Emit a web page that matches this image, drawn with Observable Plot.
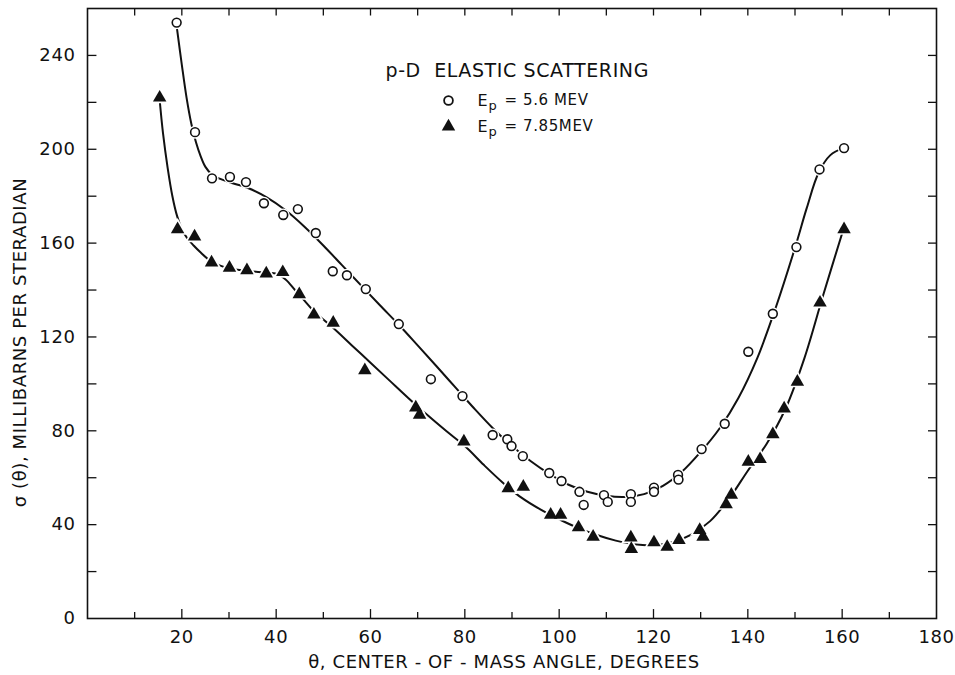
<!DOCTYPE html>
<html><head><meta charset="utf-8">
<script src="https://cdn.jsdelivr.net/npm/d3@7"></script>
<script src="https://cdn.jsdelivr.net/npm/@observablehq/plot@0.6"></script>
<style>
body{margin:0;background:#fff}
svg{display:block}
svg text{letter-spacing:0.6px}
</style>
</head><body><div id="chart"></div>
<script>
// Measured points, Ep = 5.6 MeV (open circles)
const angles56 = [18.9,22.8,26.4,30.2,33.6,37.4,41.5,44.6,48.4,52,55,59,66,72.8,79.5,85.9,89,89.9,92.3,97.9,100.5,104.3,105.2,109.5,110.3,115.2,115.2,120.1,120.1,125.2,125.3,130.2,135.1,140.1,145.3,150.3,155.2,160.4];
const values56 = [254,207.3,187.6,188.2,186,177,172,174.5,164.3,148,146.3,140.4,125.5,102,94.8,78.2,76.4,73.5,69.2,62,58.6,54,48.4,52.6,49.7,53,49.7,55.8,54,61.2,59.2,72.2,83,113.7,129.9,158.3,191.4,200.5];
// Measured points, Ep = 7.85 MeV (filled triangles)
const angles785 = [15.3,19.1,22.7,26.3,30.1,33.8,37.9,41.4,44.9,48,52.1,58.8,69.6,70.4,79.8,89.2,92.4,98.2,100.3,104.1,107.2,115.2,115.3,120.1,122.9,125.4,129.8,130.5,135.4,136.5,140.1,142.6,145.3,147.7,150.5,155.3,160.4];
const values785 = [222,165.9,162.8,151.7,149.5,148.4,147,147.6,138.2,129.5,126,105.8,89.9,86.8,75.4,55.5,56.1,44.2,44.2,38.8,34.8,34.5,29.6,32.4,30.5,33.4,37.7,34.8,48.7,52.7,66.8,67.9,78.5,89.5,100.9,134.6,165.9];
// Hand-drawn smooth curves
const curveAngles56 = [19,20,21,22,23,24,25,26.5,28,30,34,38,42,46,50,54,58,62,66,70,74,78,82,86,90,94,98,102,106,110,114,118,122,126,130,134,138,142,146,150,152.5,155,157.5,160.3];
const curveValues56 = [251,236,222,211,203,197,192.5,189,187.5,186,183.5,179.5,174,167,159,150.5,142,133.5,125.2,116.4,107.5,98.5,89.5,81,73.5,67,61.5,57,54,52.3,51.8,53,56.5,62.5,71,81,94,111,133,158,175,190,197.5,200.6];
const curveAngles785 = [15.3,16,17,18,19,20,21,22.5,24,26,28,30,34,38,40,42,44,46,48,52,56,60,64,68,72,76,80,84,88,92,96,100,104,108,112,116,120,124,128,132,136,140,144,148,152,156,160.2];
const curveValues785 = [221,207,192,180,171.5,166,162.5,159,156,152.5,150.5,149.2,148.2,147.3,147,144.5,140,135.5,131,124,116.5,109,101.5,94,86.8,80,73.5,65.5,58,51.5,46.5,42.3,38.6,35.6,33.2,31.6,31.2,32.5,35.8,41.5,51,63,74.5,89.5,111,138,165.5];
// Axis ticks
const xTickLabels = [20,40,60,80,100,120,140,160,180];
const yTickLabels = [0,40,80,120,160,200,240];
const xMinorTicks = [10,20,30,40,50,60,70,80,90,100,110,120,130,140,150,160,170];
const yMinorTicks = [20,40,60,80,100,120,140,160,180,200,220,240];

const pts56 = angles56.map((a,i)=>({a, v: values56[i]}));
const pts785 = angles785.map((a,i)=>({a, v: values785[i]}));
const crv56 = curveAngles56.map((a,i)=>({a, v: curveValues56[i]}));
const crv785 = curveAngles785.map((a,i)=>({a, v: curveValues785[i]}));

const ink = "#111";
const font = "DejaVu Sans";
const T = {textAnchor: "start", lineAnchor: "middle", fill: ink, frameAnchor: "top-left"};

const chart = Plot.plot({
  width: 955, height: 675,
  marginLeft: 87, marginRight: 19, marginTop: 8, marginBottom: 57,
  x: {domain: [0, 180]},
  y: {domain: [0, 260]},
  style: {fontFamily: font, background: "#fff", color: ink},
  marks: [
    Plot.frame({stroke: ink, strokeWidth: 1.6}),
    // inward ticks
    Plot.ruleX(xMinorTicks, {x: d => d, y1: 0, y2: d => d % 20 === 0 ? 3.8 : 2.6, stroke: ink, strokeWidth: 1.3}),
    Plot.ruleX(xMinorTicks, {x: d => d, y1: 260, y2: 256.8, stroke: ink, strokeWidth: 1.3}),
    Plot.ruleY(yMinorTicks, {y: d => d, x1: 0, x2: 2, stroke: ink, strokeWidth: 1.3}),
    Plot.ruleY(yMinorTicks, {y: d => d, x1: 180, x2: 178.3, stroke: ink, strokeWidth: 1.3}),
    Plot.axisX({ticks: xTickLabels, tickSize: 0, tickPadding: 12, fontSize: 18, label: null, tickFormat: d => String(d)}),
    Plot.axisY({ticks: yTickLabels, tickSize: 0, tickPadding: 12, fontSize: 18, label: null, tickFormat: d => String(d)}),
    // curves
    Plot.line(crv56, {x: "a", y: "v", curve: "catmull-rom", stroke: ink, strokeWidth: 2}),
    Plot.line(crv785, {x: "a", y: "v", curve: "catmull-rom", stroke: ink, strokeWidth: 2}),
    // halos (gap in line around markers)
    Plot.dot(pts56, {x: "a", y: "v", r: 6.5, fill: "#fff"}),
    Plot.dot(pts785, {x: "a", y: "v", symbol: "triangle", r: 7.2, fill: "#fff"}),
    // markers
    Plot.dot(pts56, {x: "a", y: "v", r: 4.4, fill: "#fff", stroke: ink, strokeWidth: 1.6}),
    Plot.dot(pts785, {x: "a", y: "v", symbol: "triangle", r: 5, fill: ink}),
    // axis titles
    Plot.text(["θ, CENTER - OF - MASS ANGLE, DEGREES"], {frameAnchor: "bottom", textAnchor: "middle", lineAnchor: "middle", dx: -8, dy: 44, fontSize: 18, fill: ink}),
    Plot.text(["σ (θ), MILLIBARNS PER STERADIAN"], {frameAnchor: "left", textAnchor: "middle", lineAnchor: "middle", rotate: -90, dx: -67, dy: 29, fontSize: 18, fill: ink}),
    // legend
    Plot.text(["p-D  ELASTIC SCATTERING"], {...T, dx: 298, dy: 62, fontSize: 19}),
    Plot.dot([0], {frameAnchor: "top-left", dx: 361, dy: 92, r: 4.4, fill: "#fff", stroke: ink, strokeWidth: 1.8}),
    Plot.dot([0], {frameAnchor: "top-left", dx: 361, dy: 118, r: 5, symbol: "triangle", fill: ink}),
    Plot.text(["E"], {...T, dx: 390, dy: 92, fontSize: 16}),
    Plot.text(["p"], {...T, dx: 401, dy: 97, fontSize: 13}),
    Plot.text(["= 5.6 MEV"], {...T, dx: 417, dy: 92, fontSize: 15}),
    Plot.text(["E"], {...T, dx: 390, dy: 118, fontSize: 16}),
    Plot.text(["p"], {...T, dx: 401, dy: 123, fontSize: 13}),
    Plot.text(["= 7.85MEV"], {...T, dx: 417, dy: 118, fontSize: 15})
  ]
});
document.getElementById("chart").appendChild(chart);
</script>
</body></html>
